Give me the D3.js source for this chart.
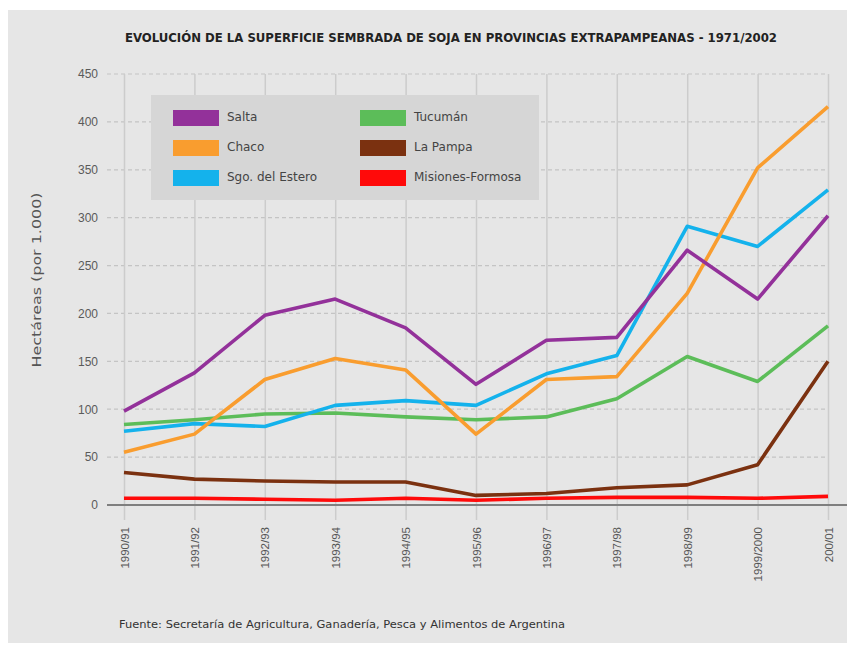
<!DOCTYPE html>
<html>
<head>
<meta charset="utf-8">
<script src="https://cdn.jsdelivr.net/npm/d3@7"></script>
<style>
  body { margin: 0; background: #ffffff; }
  svg { display: block; font-family: "DejaVu Sans", Verdana, sans-serif; }
</style>
</head>
<body>
<div id="chart"></div>
<script>
// campaign labels on the x axis
const campaigns = ["1990/91", "1991/92", "1992/93", "1993/94", "1994/95", "1995/96",
                   "1996/97", "1997/98", "1998/99", "1999/2000", "200/01"];

// hectares (x 1.000) per province
const salta     = [98, 138, 198, 215, 185, 126, 172, 175, 266, 215, 302];
const chaco     = [55, 74, 131, 153, 141, 74, 131, 134, 221, 352, 416];
const sgoEstero = [77, 85, 82, 104, 109, 104, 137, 156, 291, 270, 329];
const tucuman   = [84, 89, 95, 96, 92, 89, 92, 111, 155, 129, 187];
const laPampa   = [34, 27, 25, 24, 24, 10, 12, 18, 21, 42, 150];
const misiones  = [7, 7, 6, 5, 7, 5, 7, 8, 8, 7, 9];

const yTicks = [0, 50, 100, 150, 200, 250, 300, 350, 400, 450];

const series = [
  { name: "Salta", values: salta, color: "#93319a" },
  { name: "Chaco", values: chaco, color: "#f99d2f" },
  { name: "Sgo. del Estero", values: sgoEstero, color: "#14b2ec" },
  { name: "Tucumán", values: tucuman, color: "#5cbd59" },
  { name: "La Pampa", values: laPampa, color: "#7b3110" },
  { name: "Misiones-Formosa", values: misiones, color: "#ff0a0a" }
];

const W = 848, H = 645;
const svg = d3.select("#chart").append("svg").attr("width", W).attr("height", H);

// grey panel
svg.append("rect").attr("x", 8).attr("y", 10).attr("width", 839).attr("height", 633)
  .attr("fill", "#e6e6e6");

const x = d3.scalePoint().domain(campaigns).range([124, 828]);
const y = d3.scaleLinear().domain([0, 450]).range([505, 74]);

// title
svg.append("text")
  .attr("x", 125).attr("y", 42)
  .attr("textLength", 652).attr("lengthAdjust", "spacingAndGlyphs")
  .style("font-family", "'DejaVu Sans Condensed', 'DejaVu Sans', sans-serif")
  .style("font-weight", "bold").style("font-size", "13px").attr("fill", "#222")
  .text("EVOLUCIÓN DE LA SUPERFICIE SEMBRADA DE SOJA EN PROVINCIAS EXTRAPAMPEANAS - 1971/2002");

// horizontal dashed grid
svg.append("g").selectAll("line")
  .data(yTicks.filter(d => d > 0))
  .join("line")
  .attr("x1", 107).attr("x2", 828)
  .attr("y1", d => y(d)).attr("y2", d => y(d))
  .attr("stroke", "#c4c4c4").attr("stroke-width", 1.2)
  .attr("stroke-dasharray", "4,3");

// vertical grid + x labels
const xAxis = svg.append("g")
  .attr("transform", "translate(0,520)")
  .call(d3.axisBottom(x).tickSize(-(520 - 74)).tickPadding(0));
xAxis.select(".domain").remove();
xAxis.selectAll(".tick line").attr("stroke", "#cccccc").attr("stroke-width", 1.5);
xAxis.selectAll(".tick text")
  .attr("transform", "rotate(-90)")
  .attr("x", -7).attr("y", 0).attr("dy", "0.35em")
  .attr("text-anchor", "end")
  .style("font-size", "11.5px").attr("fill", "#555");

// y axis labels
const yAxis = svg.append("g")
  .attr("transform", "translate(107,0)")
  .call(d3.axisLeft(y).tickValues(yTicks).tickSize(0).tickPadding(9));
yAxis.select(".domain").remove();
yAxis.selectAll(".tick text").style("font-size", "12px").attr("fill", "#5a5a5a");

// zero line
svg.append("line")
  .attr("x1", 107).attr("x2", 847)
  .attr("y1", y(0)).attr("y2", y(0))
  .attr("stroke", "#7f7f7f").attr("stroke-width", 2);

// y title
svg.append("text")
  .attr("transform", "translate(41,280) rotate(-90)")
  .attr("text-anchor", "middle")
  .attr("textLength", 175).attr("lengthAdjust", "spacingAndGlyphs")
  .style("font-size", "13px").attr("fill", "#555")
  .text("Hectáreas  (por 1.000)");

// lines
const line = d3.line()
  .x((d, i) => x(campaigns[i]))
  .y(d => y(d));

svg.append("g").selectAll("path")
  .data(series.slice().reverse())
  .join("path")
  .attr("d", d => line(d.values))
  .attr("fill", "none")
  .attr("stroke", d => d.color)
  .attr("stroke-width", 3.6)
  .attr("stroke-linejoin", "round");

// legend
const legend = svg.append("g");
legend.append("rect")
  .attr("x", 151).attr("y", 95).attr("width", 388).attr("height", 105)
  .attr("fill", "#d6d6d6");

const leg = legend.selectAll("g.item")
  .data(series)
  .join("g")
  .attr("class", "item")
  .attr("transform", (d, i) => `translate(${i < 3 ? 173 : 360},${110 + (i % 3) * 30})`);
leg.append("rect")
  .attr("width", 46).attr("height", 16)
  .attr("fill", d => d.color);
leg.append("text")
  .attr("x", 54).attr("y", 11)
  .style("font-size", "12px").attr("fill", "#444")
  .text(d => d.name);

// source
svg.append("text")
  .attr("x", 119).attr("y", 628)
  .attr("textLength", 446).attr("lengthAdjust", "spacingAndGlyphs")
  .style("font-size", "11px").attr("fill", "#333")
  .text("Fuente: Secretaría de Agricultura, Ganadería, Pesca y Alimentos de Argentina");
</script>
</body>
</html>
